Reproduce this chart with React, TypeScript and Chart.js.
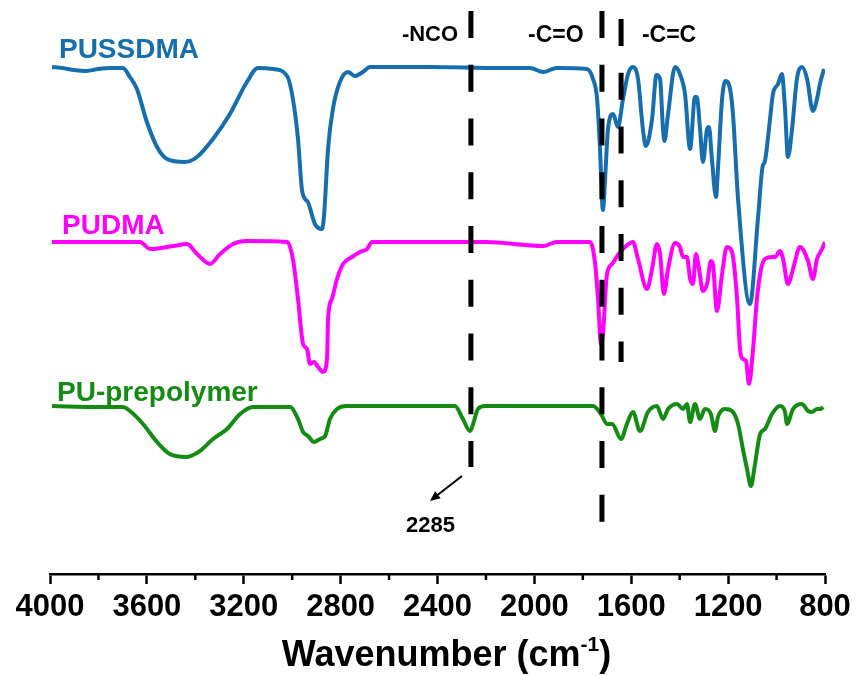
import React, { useEffect, useRef } from 'react';
import { Chart, registerables } from 'chart.js';

Chart.register(...registerables);

// [wavenumber (cm-1), transmittance (a.u., offset)]
const PUSSDMA: [number, number][] = [
  [3992, 507], [3950, 506], [3900, 504], [3850, 503], [3800, 505], [3750, 506], [3699, 506],
  [3670, 497], [3641, 485], [3600, 452], [3558, 427], [3517, 415], [3443, 412], [3393, 417],
  [3327, 435], [3257, 460], [3187, 492], [3141, 506], [3079, 505], [3021, 498], [2997, 475],
  [2976, 435], [2960, 385], [2947, 375], [2935, 372], [2906, 350], [2877, 345], [2868, 360],
  [2852, 425], [2832, 465], [2803, 492], [2770, 502], [2741, 498], [2708, 502], [2679, 507],
  [2431, 507], [2142, 506], [2018, 506], [1964, 502], [1907, 506], [1783, 505], [1758, 495],
  [1741, 475], [1729, 425], [1717, 364], [1708, 395], [1696, 445], [1675, 460], [1655, 447],
  [1634, 475], [1613, 500], [1593, 507], [1572, 495], [1552, 445], [1540, 428], [1514, 455],
  [1496, 499], [1481, 495], [1469, 445], [1463, 433], [1448, 460], [1419, 507], [1399, 500],
  [1378, 480], [1357, 425], [1337, 477], [1329, 477], [1316, 445], [1304, 412], [1287, 445],
  [1279, 447], [1267, 415], [1250, 377], [1242, 405], [1225, 475], [1211, 493], [1192, 485],
  [1180, 460], [1159, 375], [1110, 270], [1077, 355], [1058, 407], [1048, 413], [1027, 455],
  [1015, 480], [994, 490], [978, 500], [965, 465], [953, 417], [936, 445], [916, 495],
  [895, 507], [874, 495], [850, 463], [833, 475], [821, 490], [804, 505],
];

const PUDMA: [number, number][] = [
  [3992, 332], [3800, 332], [3628, 332], [3587, 325], [3492, 328], [3434, 330], [3393, 320],
  [3339, 310], [3298, 320], [3244, 330], [3187, 333], [3021, 332], [2997, 315], [2976, 275],
  [2955, 230], [2939, 225], [2926, 210], [2910, 212], [2893, 207], [2873, 202], [2856, 215],
  [2852, 255], [2836, 275], [2815, 295], [2790, 310], [2753, 317], [2720, 322], [2691, 325],
  [2670, 332], [2200, 332], [1964, 328], [1907, 332], [1770, 332], [1750, 312], [1737, 275],
  [1725, 230], [1717, 240], [1700, 300], [1679, 310], [1655, 319], [1626, 327], [1593, 332],
  [1572, 315], [1535, 285], [1514, 305], [1494, 330], [1481, 320], [1465, 280], [1448, 305],
  [1419, 331], [1399, 327], [1386, 317], [1370, 317], [1357, 295], [1345, 290], [1333, 320],
  [1320, 305], [1304, 283], [1287, 290], [1271, 313], [1263, 310], [1246, 263], [1225, 300],
  [1205, 327], [1184, 322], [1163, 275], [1151, 225], [1139, 215], [1126, 213], [1114, 190],
  [1097, 225], [1081, 275], [1064, 305], [1048, 315], [1019, 317], [1006, 317], [986, 323],
  [973, 315], [953, 290], [932, 305], [903, 327], [870, 313], [850, 295], [833, 315],
  [812, 325], [800, 332],
];

const PU_PREPOLYMER: [number, number][] = [
  [3992, 168], [3800, 167], [3699, 167], [3670, 163], [3616, 150], [3558, 132], [3505, 120],
  [3434, 117], [3381, 123], [3327, 135], [3269, 145], [3215, 160], [3162, 167], [3009, 167],
  [2976, 155], [2955, 142], [2935, 138], [2910, 132], [2885, 135], [2864, 138], [2844, 155],
  [2815, 165], [2774, 168], [2328, 168], [2295, 155], [2266, 143], [2253, 150], [2233, 165],
  [2204, 168], [1758, 168], [1725, 160], [1700, 150], [1679, 150], [1642, 135], [1618, 150],
  [1593, 162], [1564, 143], [1531, 162], [1494, 168], [1469, 155], [1448, 165], [1411, 170],
  [1386, 165], [1370, 170], [1357, 152], [1337, 170], [1316, 155], [1296, 165], [1271, 160],
  [1254, 143], [1242, 157], [1213, 165], [1184, 163], [1159, 150], [1139, 125], [1122, 105],
  [1106, 88], [1089, 110], [1068, 140], [1048, 145], [1019, 160], [986, 168], [965, 162],
  [957, 150], [932, 165], [895, 170], [870, 163], [854, 162], [833, 165], [817, 165], [808, 167],
];

// dashed marker lines: wavenumber, top value, bottom value
const MARKER_WN = [2262, 1721, 1642];
const MARKER_TOP = [563, 563, 555];
const MARKER_BOTTOM = [107, 52, 212];

const SERIES_NAMES = ['PUSSDMA', 'PUDMA', 'PU-prepolymer'];
const SERIES_COLORS = ['#166eae', '#ff00ff', '#148c14'];
// label anchor (wavenumber, value at baseline)
const SERIES_LABEL_POS: [number, number][] = [[3963, 516], [3950, 340], [3971, 173]];

const GROUP_LABELS = ['-NCO', '-C=O', '-C=C'];
const GROUP_LABEL_POS: [number, number][] = [[2547, 533], [2026, 532], [1556, 532]];

const PEAK_NOTE = '2285';
const PEAK_NOTE_POS: [number, number] = [2530, 42];
const ARROW_FROM: [number, number] = [2299, 98];
const ARROW_TO: [number, number] = [2431, 73];

const X_MIN = 800;
const X_MAX = 4000;
const X_STEP = 400;
const MINOR_TICKS = [1000, 1400, 1800, 2200, 2600, 3000, 3400, 3800];

const FONT = '"Liberation Sans", Arial, Helvetica, sans-serif';

export default function App() {
  const ref = useRef<HTMLCanvasElement | null>(null);

  useEffect(() => {
    document.body.style.margin = '0';
    document.body.style.background = '#fff';
    const canvas = ref.current;
    if (!canvas) return;

    const toXY = (arr: [number, number][]) => arr.map(([x, y]) => ({ x, y }));

    const spectra = [PUSSDMA, PUDMA, PU_PREPOLYMER].map((d, i) => ({
      label: SERIES_NAMES[i],
      data: toXY(d),
      borderColor: SERIES_COLORS[i],
      borderWidth: 4,
      pointRadius: 0,
      cubicInterpolationMode: 'monotone' as const,
      fill: false,
      order: 2,
    }));

    const markers = MARKER_WN.map((wn, i) => ({
      label: 'marker' + i,
      data: [{ x: wn, y: MARKER_TOP[i] }, { x: wn, y: MARKER_BOTTOM[i] }],
      borderColor: '#000',
      borderWidth: 5,
      borderDash: [27, 26.75],
      borderCapStyle: 'butt' as const,
      pointRadius: 0,
      fill: false,
      order: 1,
    }));

    const annot = {
      id: 'annot',
      afterDraw(chart: any) {
        const ctx = chart.ctx as CanvasRenderingContext2D;
        const xs = chart.scales.x;
        const ys = chart.scales.y;
        const px = (v: number) => xs.getPixelForValue(v);
        const py = (v: number) => ys.getPixelForValue(v);
        ctx.save();
        // minor ticks
        ctx.strokeStyle = '#000';
        ctx.lineWidth = 2.5;
        const axisY = chart.chartArea.bottom;
        MINOR_TICKS.forEach((v) => {
          const x = px(v);
          ctx.beginPath();
          ctx.moveTo(x, axisY);
          ctx.lineTo(x, axisY + 6);
          ctx.stroke();
        });
        ctx.textBaseline = 'alphabetic';
        ctx.textAlign = 'left';
        // series labels
        ctx.font = `bold 28px ${FONT}`;
        SERIES_NAMES.forEach((n, i) => {
          ctx.fillStyle = SERIES_COLORS[i];
          ctx.fillText(n, px(SERIES_LABEL_POS[i][0]), py(SERIES_LABEL_POS[i][1]));
        });
        // group labels
        ctx.fillStyle = '#000';
        GROUP_LABELS.forEach((n, i) => {
          ctx.font = `bold ${i === 0 ? 22 : 23}px ${FONT}`;
          ctx.fillText(n, px(GROUP_LABEL_POS[i][0]), py(GROUP_LABEL_POS[i][1]));
        });
        // peak note
        ctx.font = `bold 22px ${FONT}`;
        ctx.fillText(PEAK_NOTE, px(PEAK_NOTE_POS[0]), py(PEAK_NOTE_POS[1]));
        // arrow
        const x1 = px(ARROW_FROM[0]), y1 = py(ARROW_FROM[1]);
        const x2 = px(ARROW_TO[0]), y2 = py(ARROW_TO[1]);
        const ang = Math.atan2(y2 - y1, x2 - x1);
        ctx.lineWidth = 2;
        ctx.beginPath();
        ctx.moveTo(x1, y1);
        ctx.lineTo(x2 - 6 * Math.cos(ang), y2 - 6 * Math.sin(ang));
        ctx.stroke();
        ctx.beginPath();
        ctx.moveTo(x2, y2);
        ctx.lineTo(x2 - 11 * Math.cos(ang - 0.42), y2 - 11 * Math.sin(ang - 0.42));
        ctx.lineTo(x2 - 11 * Math.cos(ang + 0.42), y2 - 11 * Math.sin(ang + 0.42));
        ctx.closePath();
        ctx.fill();
        // axis title with superscript
        const big = `bold 36px ${FONT}`;
        const small = `bold 21px ${FONT}`;
        const t1 = 'Wavenumber (cm';
        const t2 = '-1';
        const t3 = ')';
        ctx.font = big;
        const w1 = ctx.measureText(t1).width;
        const w3 = ctx.measureText(t3).width;
        ctx.font = small;
        const w2 = ctx.measureText(t2).width;
        const total = w1 + w2 + w3;
        const cx = (chart.chartArea.left + chart.chartArea.right) / 2 + 9;
        const base = 666;
        let x = cx - total / 2;
        ctx.font = big;
        ctx.fillText(t1, x, base);
        x += w1;
        ctx.font = small;
        ctx.fillText(t2, x, base - 15);
        x += w2;
        ctx.font = big;
        ctx.fillText(t3, x, base);
        ctx.restore();
      },
    };

    const chart = new Chart(canvas, {
      type: 'line',
      data: { datasets: [...markers, ...spectra] as any },
      options: {
        animation: false,
        responsive: false,
        maintainAspectRatio: false,
        layout: { padding: { left: 50, right: 32, top: 0, bottom: 0 } },
        plugins: { legend: { display: false }, tooltip: { enabled: false } },
        scales: {
          x: {
            type: 'linear',
            min: X_MIN,
            max: X_MAX,
            reverse: true,
            afterFit: (s: any) => {
              s.height = 102;
            },
            ticks: {
              stepSize: X_STEP,
              autoSkip: false,
              maxRotation: 0,
              padding: 5,
              color: '#000',
              font: { family: FONT, size: 31, weight: 'bold' },
              callback: (v: any) => String(v),
            },
            grid: {
              drawOnChartArea: false,
              drawTicks: true,
              tickLength: 10,
              tickWidth: 2.5,
              tickColor: '#000',
            },
            border: { display: true, color: '#000', width: 2.5 },
          },
          y: { display: false, min: 0, max: 574 },
        },
      } as any,
      plugins: [annot],
    });

    return () => chart.destroy();
  }, []);

  return (
    <div style={{ width: 857, height: 676, background: '#fff' }}>
      <canvas ref={ref} width={857} height={676} style={{ display: 'block' }} />
    </div>
  );
}
